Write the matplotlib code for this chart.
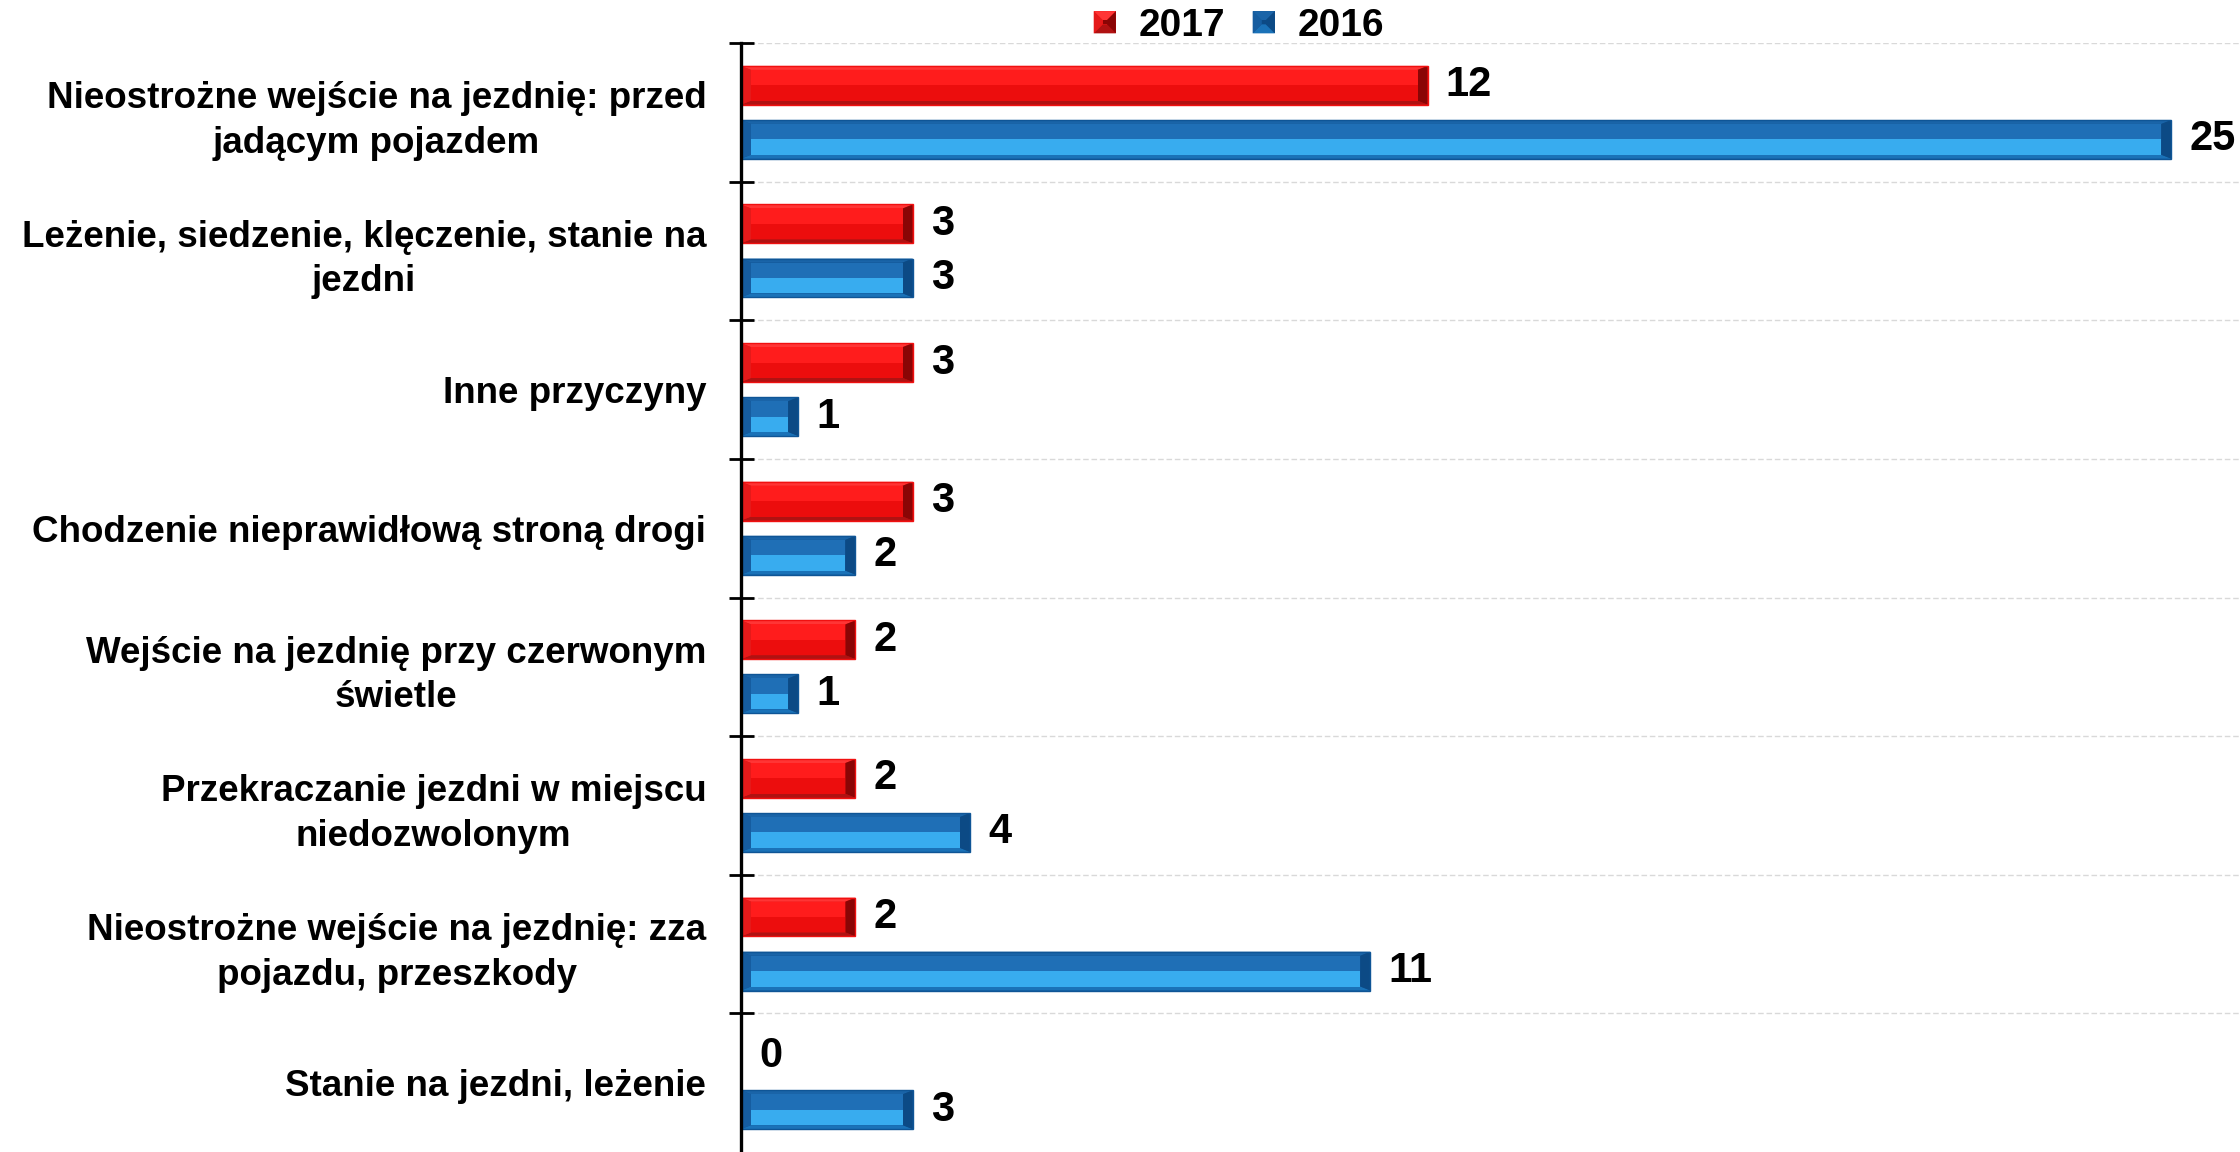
import matplotlib
matplotlib.use('Agg')
import matplotlib.pyplot as plt
from matplotlib.patches import Polygon, Rectangle
from matplotlib.legend_handler import HandlerBase
import numpy as np

plt.rcParams['font.family'] = ['Liberation Sans', 'DejaVu Sans']
plt.rcParams['font.weight'] = 'bold'

categories = [
    'Nieostrożne wejście na jezdnię: przed\njadącym pojazdem',
    'Leżenie, siedzenie, klęczenie, stanie na\njezdni',
    'Inne przyczyny',
    'Chodzenie nieprawidłową stroną drogi',
    'Wejście na jezdnię przy czerwonym\nświetle',
    'Przekraczanie jezdni w miejscu\nniedozwolonym',
    'Nieostrożne wejście na jezdnię: zza\npojazdu, przeszkody',
    'Stanie na jezdni, leżenie',
]
values_2017 = [12, 3, 3, 3, 2, 2, 2, 0]
values_2016 = [25, 3, 1, 2, 1, 4, 11, 3]
series_names = ['2017', '2016']

# bevel shades: rim, top, face upper, face lower, bottom, left, right
red_shades = ['#f01010', '#ff3535', '#ff1c1c', '#ec0d0d', '#b01212', '#e51a1a', '#8a0505']
blue_shades = ['#0f5596', '#1a64a8', '#1f6fb6', '#38acef', '#1a72b8', '#165da0', '#0c4a85']


def bevel_polys(x0, y0, w, h, bx, by, shades):
    # y0 is the edge drawn at the top (y axis is inverted)
    x1, y1 = x0 + w, y0 + h
    bx = min(bx, w / 2)
    ix0, ix1, iy0, iy1 = x0 + bx, x1 - bx, y0 + by, y1 - by
    ym = (iy0 + iy1) / 2
    rim, top, fu, fl, bot, left, right = shades
    return [
        ([(x0, y0), (x1, y0), (x1, y1), (x0, y1)], rim),
        ([(x0, y0), (x1, y0), (ix1, iy0), (ix0, iy0)], top),
        ([(x0, y1), (x1, y1), (ix1, iy1), (ix0, iy1)], bot),
        ([(x0, y0), (ix0, iy0), (ix0, iy1), (x0, y1)], left),
        ([(x1, y0), (ix1, iy0), (ix1, iy1), (x1, y1)], right),
        ([(ix0, iy0), (ix1, iy0), (ix1, ym), (ix0, ym)], fu),
        ([(ix0, ym), (ix1, ym), (ix1, iy1), (ix0, iy1)], fl),
    ]


fig = plt.figure(figsize=(22.4, 11.52), dpi=100)
ax = fig.add_axes([741 / 2240, 0, 1 - 741 / 2240, 1 - 43 / 1152])

y = np.arange(len(categories))
h = 0.28
off = 0.195
bars17 = ax.barh(y - off, values_2017, height=h, color='none', linewidth=0)
bars16 = ax.barh(y + off, values_2016, height=h, color='none', linewidth=0)

ax.set_xlim(0, 26.2)
ax.set_ylim(len(categories) - 0.5, -0.5)

# data units per pixel
px_x = 26.2 / (2240 - 741)
px_y = len(categories) / (1152 - 43)
for bars, shades in [(bars17, red_shades), (bars16, blue_shades)]:
    for r in bars:
        if r.get_width() <= 0:
            continue
        for pts, c in bevel_polys(r.get_x(), r.get_y(), r.get_width(), r.get_height(),
                                  10 * px_x, 4 * px_y, shades):
            ax.add_patch(Polygon(pts, closed=True, facecolor=c, edgecolor='none', zorder=3))
        ax.add_patch(Rectangle((r.get_x(), r.get_y()), r.get_width(), r.get_height(),
                               fill=False, edgecolor=shades[0], linewidth=1.0, zorder=4))

for bars, vals in [(bars17, values_2017), (bars16, values_2016)]:
    for r, v in zip(bars, vals):
        ax.annotate(str(v), (r.get_width(), r.get_y() + r.get_height() / 2),
                    xytext=(13, 0), textcoords='offset points',
                    ha='left', va='center', fontsize=30, fontweight='bold', color='black')

ax.set_yticks(y)
ax.set_yticklabels(categories, fontsize=26.5, fontweight='bold', multialignment='center',
                   linespacing=1.35)
ax.tick_params(axis='y', which='major', length=0, pad=25)
ax.set_yticks(np.arange(len(categories)) - 0.5, minor=True)
ax.tick_params(axis='y', which='minor', direction='inout', length=18, width=2, color='black')
ax.grid(axis='y', which='minor', color='#d9d9d9', linestyle=(0, (4, 2)), linewidth=1)
ax.set_xticks([])
for s in ['top', 'right', 'bottom']:
    ax.spines[s].set_visible(False)
ax.spines['left'].set_linewidth(2.4)
ax.spines['left'].set_zorder(5)


class BevelHandler(HandlerBase):
    def __init__(self, shades):
        super().__init__()
        self.shades = shades

    def create_artists(self, legend, orig_handle, xdescent, ydescent, width, height, fontsize, trans):
        s = min(width, height)
        x0 = -xdescent + (width - s) / 2
        y0 = -ydescent + (height - s) / 2
        b = s * 0.4
        rim, top, fu, fl, bot, left, right = self.shades
        x1, y1 = x0 + s, y0 + s
        ix0, ix1, iy0, iy1 = x0 + b, x1 - b, y0 + b, y1 - b
        arts = []
        for pts, c in [
            ([(x0, y0), (x1, y0), (x1, y1), (x0, y1)], rim),
            ([(x0, y1), (x1, y1), (ix1, iy1), (ix0, iy1)], top),
            ([(x0, y0), (x1, y0), (ix1, iy0), (ix0, iy0)], bot),
            ([(x0, y0), (ix0, iy0), (ix0, iy1), (x0, y1)], left),
            ([(x1, y0), (ix1, iy0), (ix1, iy1), (x1, y1)], right),
            ([(ix0, iy0), (ix1, iy0), (ix1, iy1), (ix0, iy1)], right),
        ]:
            p = Polygon(pts, closed=True, facecolor=c, edgecolor='none')
            p.set_transform(trans)
            arts.append(p)
        return arts


h17 = Rectangle((0, 0), 1, 1)
h16 = Rectangle((0, 0), 1, 1)
fig.legend([h17, h16], series_names, loc='center', bbox_to_anchor=(1239 / 2240, 1 - 26 / 1152),
           ncol=2, frameon=False, prop={'size': 28, 'weight': 'bold'},
           handlelength=0.57, handleheight=0.57, handletextpad=0.59, columnspacing=0.7,
           handler_map={h17: BevelHandler(red_shades), h16: BevelHandler(blue_shades)})

fig.savefig('out.png', dpi=100)
